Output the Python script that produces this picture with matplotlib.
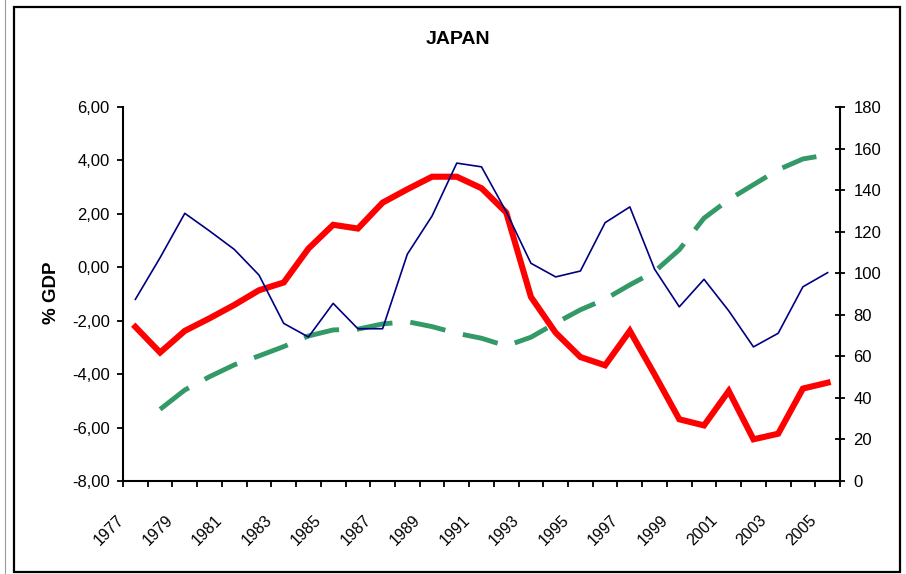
import matplotlib
matplotlib.use("Agg")
import matplotlib.pyplot as plt
from matplotlib.patches import Rectangle
from matplotlib.lines import Line2D
from matplotlib.transforms import ScaledTranslation, blended_transform_factory

plt.rcParams['font.family'] = ['Liberation Sans', 'DejaVu Sans']

years = list(range(1977, 2006))
red_balance = [-2.23, -3.19, -2.38, -1.91, -1.41, -0.86, -0.57, 0.70, 1.59, 1.45,
               2.42, 2.92, 3.39, 3.39, 2.96, 2.05, -1.11, -2.45, -3.36, -3.67,
               -2.38, -4.01, -5.69, -5.92, -4.63, -6.44, -6.23, -4.54, -4.32]
blue_balance = [-1.20, 0.36, 2.02, 1.36, 0.67, -0.29, -2.10, -2.61, -1.35, -2.30,
                -2.30, 0.49, 1.92, 3.90, 3.76, 2.08, 0.15, -0.36, -0.14, 1.67,
                2.26, -0.07, -1.48, -0.45, -1.63, -2.98, -2.47, -0.73, -0.20]
green_years = list(range(1978, 2006))
green_debt = [34.5, 43.8, 50.2, 55.9, 60.2, 64.7, 69.8, 72.7, 73.1, 75.6,
              76.7, 74.3, 71.1, 68.7, 65.0, 69.2, 76.0, 82.4, 87.5, 94.4,
              100.8, 111.3, 126.5, 135.4, 142.6, 149.8, 155.0, 157.0]
left_ticks = [-8, -6, -4, -2, 0, 2, 4, 6]
right_ticks = [0, 20, 40, 60, 80, 100, 120, 140, 160, 180]
label_years = list(range(1977, 2006, 2))

W, H, DPI = 906, 574, 100
fig = plt.figure(figsize=(W / DPI, H / DPI), dpi=DPI)
fig.patch.set_facecolor('white')

# outer frame
fig.add_artist(Rectangle((14 / W, 1 - 572 / H), (900 - 14) / W, (572 - 7) / H,
                         transform=fig.transFigure, fill=False, edgecolor='black', linewidth=1.6))
fig.add_artist(Line2D([5 / W, 5 / W], [0, 1], transform=fig.transFigure,
                      color='#9a9a9a', linewidth=0.8))

ax = fig.add_axes([123 / W, 1 - 481 / H, (840 - 123) / W, (481 - 107) / H])
ax2 = ax.twinx()

idx = {y: i for i, y in enumerate(years)}
xr = [idx[y] for y in years]
xg = [idx[y] for y in green_years]

ax.plot(xr, red_balance, color='#ff0000', linewidth=4.4, solid_joinstyle='miter', zorder=3)
ax.plot(xr, blue_balance, color='#000080', linewidth=1.2, zorder=4)
gl, = ax2.plot(xg, green_debt, color='#339966', linewidth=3.5, solid_capstyle='butt',
               dash_capstyle='butt', zorder=2)
gl.set_dashes([7.4, 3.7])
ax.set_zorder(ax2.get_zorder() + 1)
ax.patch.set_visible(False)

ax.set_xlim(-0.5, len(years) - 0.5)
ax.set_ylim(-8, 6)
ax2.set_ylim(0, 180)

ax.set_yticks(left_ticks)
ax.set_yticklabels([('%.2f' % v).replace('.', ',') for v in left_ticks])
ax2.set_yticks(right_ticks)
ax2.set_yticklabels([str(v) for v in right_ticks])

ax.set_xticks([i - 0.5 for i in range(len(years) + 1)])
ax.set_xticklabels([])

for a in (ax, ax2):
    a.spines['top'].set_visible(False)
ax.spines['right'].set_visible(False)
ax.spines['left'].set_linewidth(1.5)
ax.spines['bottom'].set_linewidth(1.5)
ax2.spines['left'].set_visible(False)
ax2.spines['bottom'].set_visible(False)
ax2.spines['right'].set_linewidth(1.5)

ax.tick_params(axis='y', direction='out', length=4.5, width=1.3, pad=5, labelsize=12, colors='black')
ax.tick_params(axis='x', direction='out', length=4.5, width=1.3)
ax2.tick_params(axis='y', direction='inout', length=7.5, width=1.3, pad=6, labelsize=12)

# rotated year labels
trans = blended_transform_factory(ax.transData, ax.transAxes)
off = ScaledTranslation(-14 / DPI, -37 / DPI, fig.dpi_scale_trans)
for y in label_years:
    ax.text(idx[y], 0, str(y), transform=trans + off, rotation=45,
            rotation_mode='anchor', ha='right', va='center', fontsize=11.5)

fig.text(458 / W, 1 - 39 / H, 'JAPAN', ha='center', va='center', fontsize=14, fontweight='bold')
fig.text(52 / W, 1 - 293 / H, '% GDP', ha='center', va='center', rotation=90,
         fontsize=13.5, fontweight='bold')

fig.savefig('out.png', dpi=DPI, facecolor='white')
